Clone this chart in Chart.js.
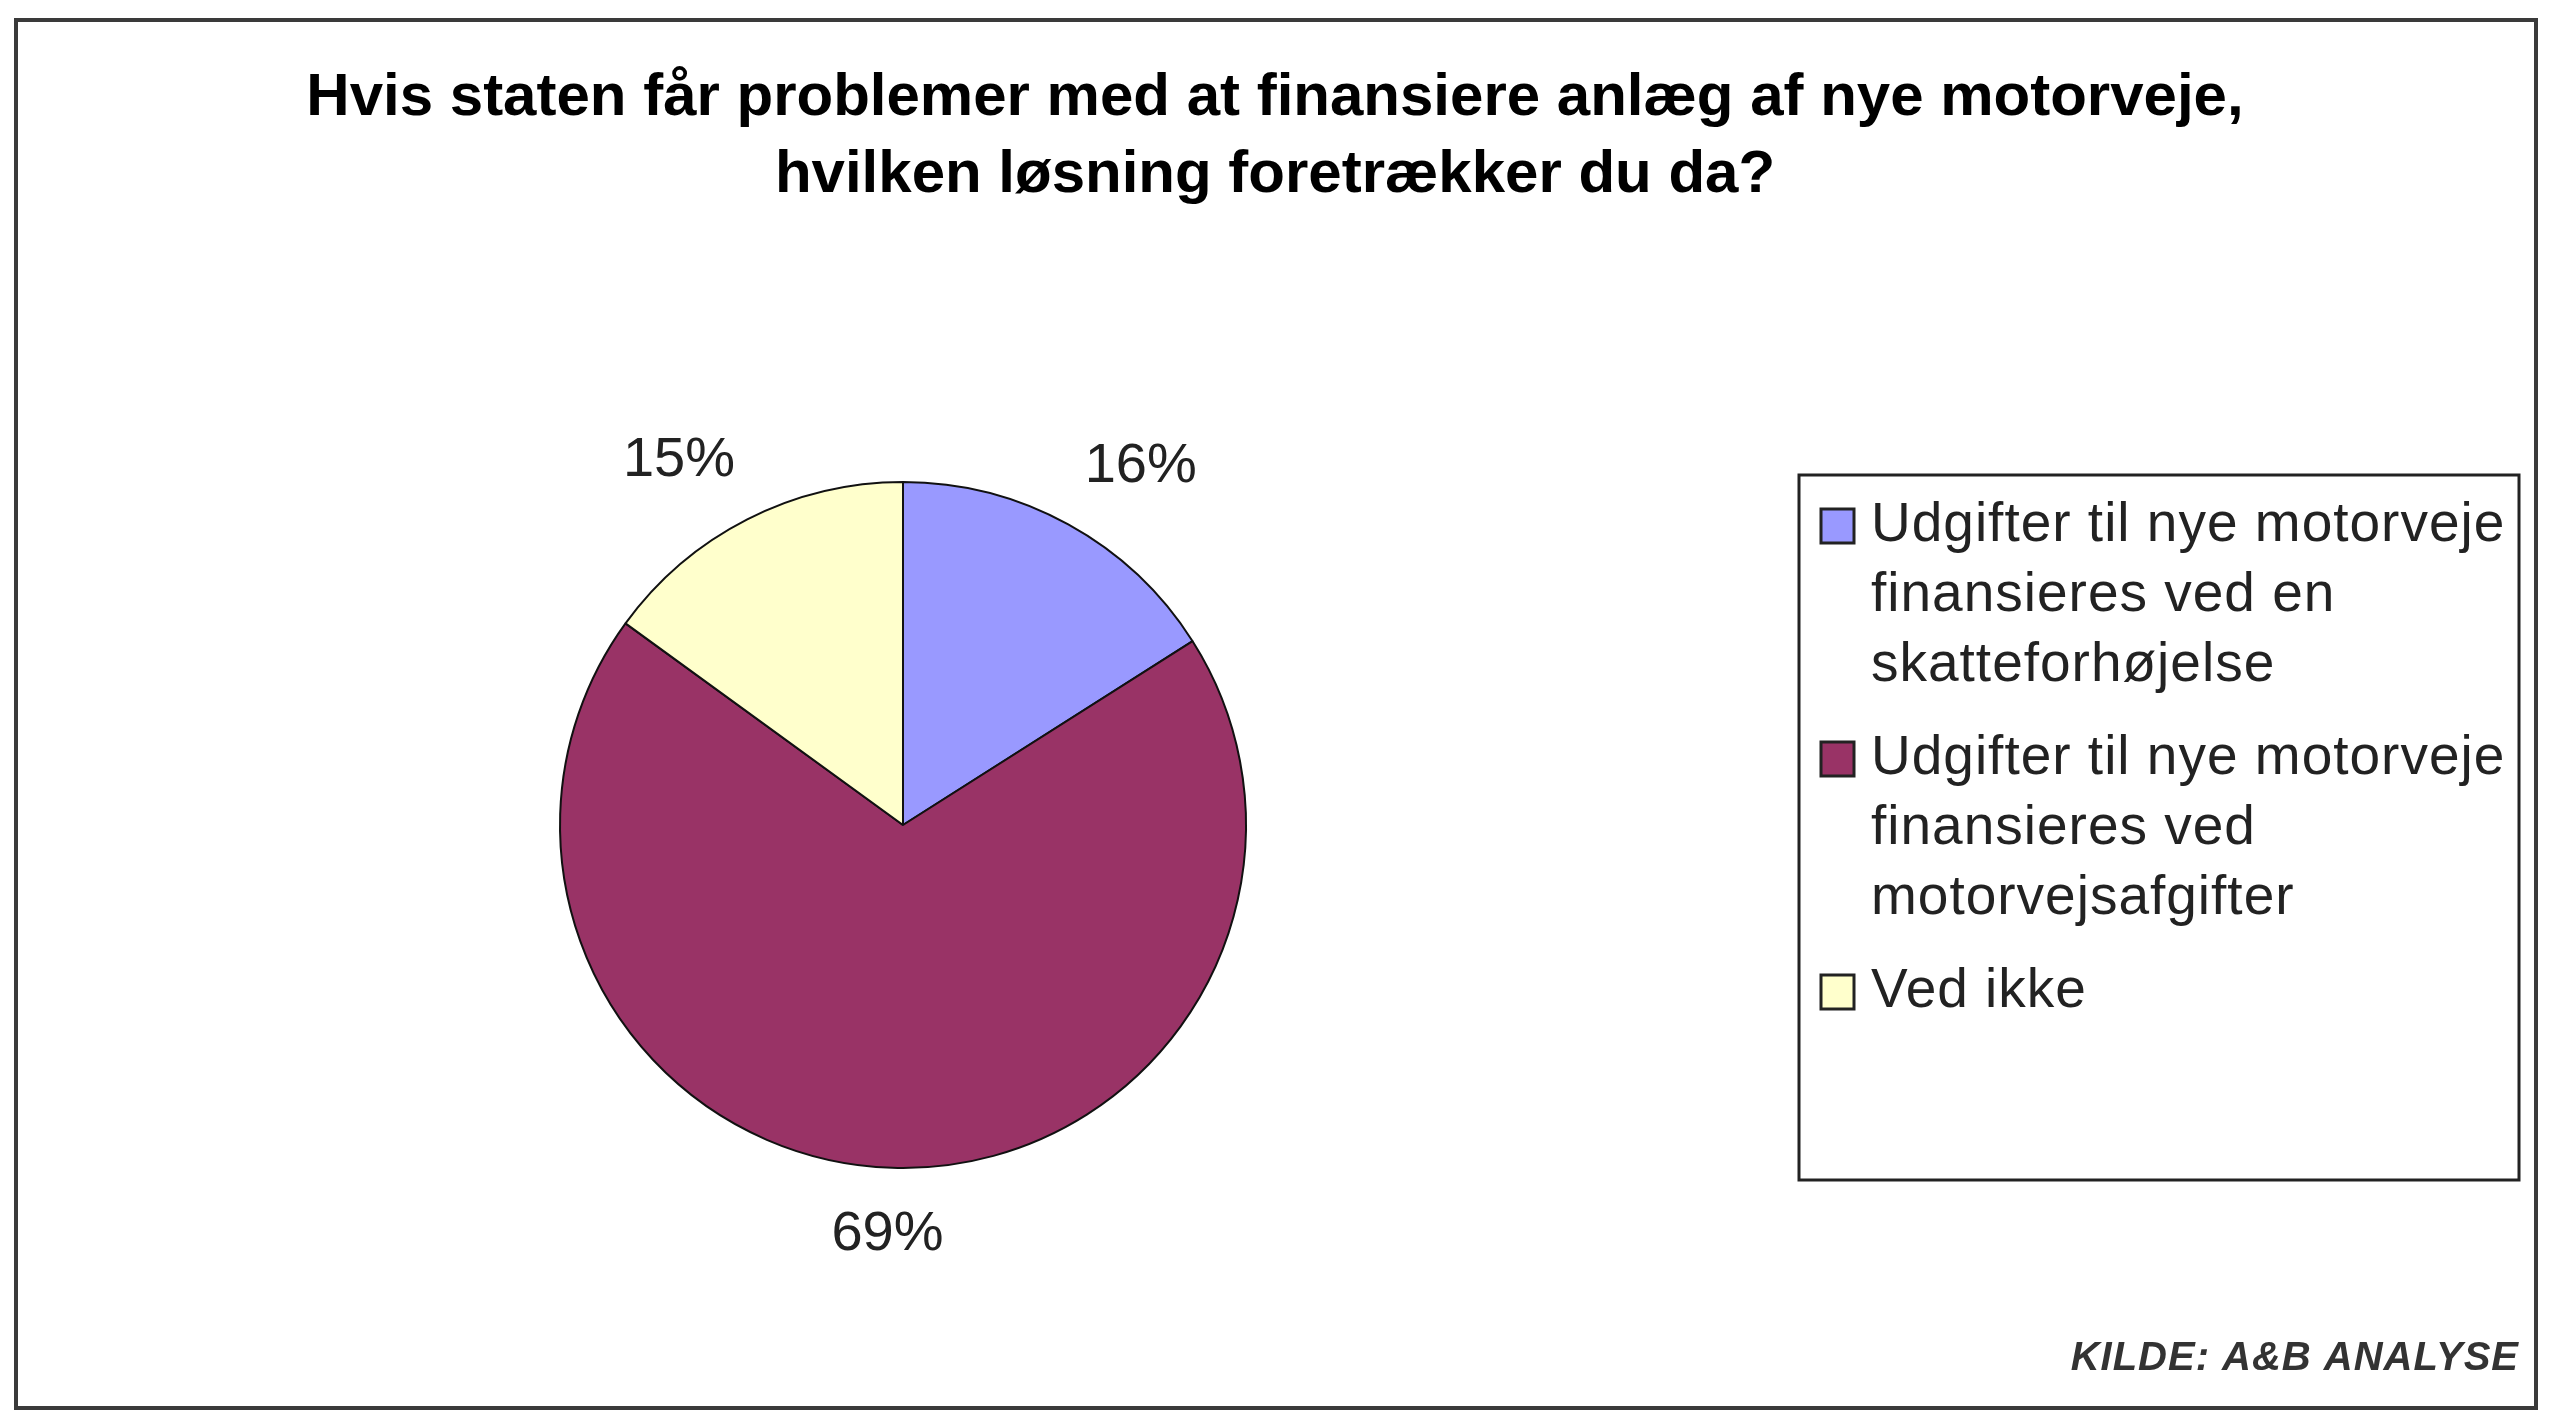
<!DOCTYPE html>
<html>
<head>
<meta charset="utf-8">
<script src="https://cdn.jsdelivr.net/npm/chart.js@4.4.0/dist/chart.umd.min.js"></script>
<style>
  html, body { margin: 0; padding: 0; background: #fff; }
  canvas { display: block; }
</style>
</head>
<body>
<canvas id="chart" width="2560" height="1422"></canvas>
<script>
// data
const categories = [
  'Udgifter til nye motorveje finansieres ved en skatteforhøjelse',
  'Udgifter til nye motorveje finansieres ved motorvejsafgifter',
  'Ved ikke'
];
const shares = [16, 69, 15];
const sliceColors = ['#9999FF', '#993366', '#FFFFCC'];
const titleLines = [
  'Hvis staten får problemer med at finansiere anlæg af nye motorveje,',
  'hvilken løsning foretrækker du da?'
];
const sourceText = 'KILDE: A&B ANALYSE';

const FONT = '"Liberation Sans", Arial, sans-serif';

// white page, outer frame and title
const framePlugin = {
  id: 'frame',
  beforeDraw(chart) {
    const ctx = chart.ctx;
    ctx.save();
    ctx.fillStyle = '#fff';
    ctx.fillRect(0, 0, chart.width, chart.height);
    ctx.strokeStyle = '#3a3a3a';
    ctx.lineWidth = 4;
    ctx.strokeRect(16, 20, 2520, 1388);

    ctx.fillStyle = '#000';
    ctx.font = `bold 60px ${FONT}`;
    ctx.textAlign = 'center';
    ctx.textBaseline = 'alphabetic';
    titleLines.forEach((line, i) => ctx.fillText(line, 1275, 115 + i * 77));
    ctx.restore();
  }
};

// percent labels outside each slice
const percentPlugin = {
  id: 'percentLabels',
  afterDatasetsDraw(chart) {
    const ctx = chart.ctx;
    const meta = chart.getDatasetMeta(0);
    ctx.save();
    ctx.font = `56px ${FONT}`;
    ctx.fillStyle = '#222';
    ctx.textAlign = 'center';
    ctx.textBaseline = 'middle';
    meta.data.forEach((arc, i) => {
      const p = arc.getProps(['x', 'y', 'startAngle', 'endAngle', 'outerRadius'], true);
      const mid = (p.startAngle + p.endAngle) / 2;
      const dx = Math.cos(mid), dy = Math.sin(mid);
      const txt = shares[i] + '%';
      const w = ctx.measureText(txt).width, h = 45;
      const r = p.outerRadius + 44;
      ctx.fillText(txt, p.x + dx * r + dx * w * 0.95, p.y + dy * r + dy * h / 2);
    });
    ctx.restore();
  }
};

function wrap(ctx, text, maxW) {
  const words = text.split(' ');
  const lines = [];
  let cur = '';
  words.forEach(w => {
    const test = cur ? cur + ' ' + w : w;
    if (ctx.measureText(test).width > maxW && cur) {
      lines.push(cur);
      cur = w;
    } else {
      cur = test;
    }
  });
  if (cur) lines.push(cur);
  return lines;
}

// legend box on the right and source note
const legendPlugin = {
  id: 'boxLegend',
  afterDraw(chart) {
    const ctx = chart.ctx;
    ctx.save();
    ctx.strokeStyle = '#222';
    ctx.lineWidth = 3;
    ctx.strokeRect(1799, 475, 720, 705);

    ctx.font = `55px ${FONT}`;
    ctx.letterSpacing = '1px';
    ctx.textBaseline = 'middle';
    ctx.textAlign = 'left';
    let y = 526;
    categories.forEach((label, i) => {
      ctx.fillStyle = sliceColors[i];
      ctx.fillRect(1821, y - 17, 33, 34);
      ctx.strokeStyle = '#222';
      ctx.lineWidth = 3;
      ctx.strokeRect(1821, y - 17, 33, 34);
      ctx.fillStyle = '#222';
      const lines = wrap(ctx, label, 660);
      lines.forEach((ln, j) => ctx.fillText(ln, 1871, y + j * 70));
      y += lines.length * 70 + 23;
    });

    ctx.font = `italic bold 40px ${FONT}`;
    ctx.letterSpacing = '1px';
    ctx.textAlign = 'right';
    ctx.textBaseline = 'alphabetic';
    ctx.fillStyle = '#333';
    ctx.fillText(sourceText, 2519, 1370);
    ctx.restore();
  }
};

new Chart(document.getElementById('chart'), {
  type: 'pie',
  data: {
    labels: categories,
    datasets: [{
      data: shares,
      backgroundColor: sliceColors,
      borderColor: '#111',
      borderWidth: 2
    }]
  },
  options: {
    responsive: false,
    animation: false,
    events: [],
    layout: { padding: { left: 559, right: 1313, top: 481, bottom: 253 } },
    plugins: {
      legend: { display: false },
      title: { display: false },
      tooltip: { enabled: false }
    }
  },
  plugins: [framePlugin, percentPlugin, legendPlugin]
});
</script>
</body>
</html>
